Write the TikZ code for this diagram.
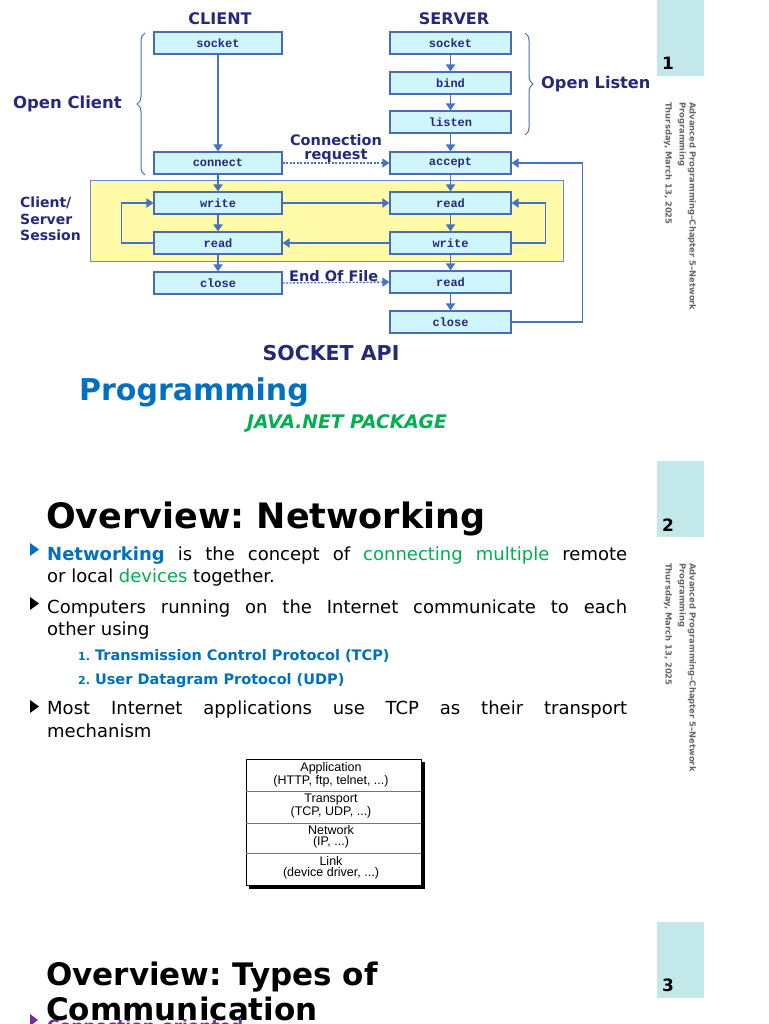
\documentclass[tikz,border=0pt]{standalone}
\usepackage{fontspec}
\setmainfont{DejaVu Sans}
\newfontfamily\monof{Liberation Mono}
\newfontfamily\arialf{Liberation Sans}
\usetikzlibrary{arrows.meta,decorations.pathreplacing}
\definecolor{navy}{HTML}{26297A}
\definecolor{boxfill}{HTML}{CFF6FD}
\definecolor{boxline}{HTML}{4A6CB8}
\definecolor{arr}{HTML}{4472C4}
\definecolor{yel}{HTML}{FFFBA8}
\definecolor{tabc}{HTML}{C3E8EA}
\definecolor{jblue}{HTML}{0070C0}
\definecolor{jgreen}{HTML}{00B050}
\definecolor{purp}{HTML}{7030A0}
\newcommand{\fs}[1]{\fontsize{#1}{#1}\selectfont}
\frenchspacing
\begin{document}
\begin{tikzpicture}[x=1pt,y=-1pt,
  api/.style={draw=boxline,fill=boxfill,line width=1.1pt,minimum width=128pt,minimum height=22pt,inner sep=0pt,font=\monof\bfseries\fs{12},text=navy},
  sapi/.style={api,minimum width=121pt},
  flow/.style={draw=arr,line width=1.8pt,-{Triangle[width=9pt,length=7pt]}},
  dflow/.style={draw=arr,line width=1.3pt,dash pattern=on 2pt off 1.5pt,-{Triangle[width=9pt,length=7pt]}},
  lbl/.style={text=navy,font=\bfseries\fs{16},inner sep=0pt},
  brc/.style={draw=boxline,line width=1pt,decorate,decoration={brace,amplitude=8pt}},
  body/.style={anchor=base west,inner sep=0pt,font=\fs{18}},
  side/.style={rotate=-90,anchor=west,inner sep=0pt,font=\bfseries\fs{8.4},text=black!60},
  tabnum/.style={anchor=base west,inner sep=0pt,font=\bfseries\fs{17}},
  stk/.style={inner sep=0pt,font=\arialf\fontsize{12.5}{11.5}\selectfont,align=center}
]
\useasboundingbox (0,0) rectangle (768,1024);
\clip (0,0) rectangle (768,1024);
\fill[white] (0,0) rectangle (768,1024);

% ---------------- Slide 1: socket API diagram ----------------
\node[draw=boxline!80,fill=yel,line width=0.9pt,minimum width=473pt,minimum height=81pt,inner sep=0pt] (sess) at (326.5,220.5) {};

\node[lbl] (client) at (220,19) {CLIENT};
\node[lbl] (server) at (454,19) {SERVER};

\node[api] (cs) at (218,43) {socket};
\node[api] (cc) at (218,163) {connect};
\node[api] (cw) at (218,203) {write};
\node[api] (cr) at (218,243) {read};
\node[api] (ccl) at (218,283) {close};

\node[sapi] (ss) at (450.5,43) {socket};
\node[sapi] (sb) at (450.5,83) {bind};
\node[sapi] (sl) at (450.5,122) {listen};
\node[sapi] (sa) at (450.5,163) {accept};
\node[sapi] (sr) at (450.5,203) {read};
\node[sapi] (sw) at (450.5,243) {write};
\node[sapi] (sr2) at (450.5,282) {read};
\node[sapi] (scl) at (450.5,322) {close};

\draw[flow] (cs) -- (cc);
\draw[flow] (cc) -- (cw);
\draw[flow] (cw) -- (cr);
\draw[flow] (cr) -- (ccl);
\draw[flow] (ss) -- (sb);
\draw[flow] (sb) -- (sl);
\draw[flow] (sl) -- (sa);
\draw[flow] (sa) -- (sr);
\draw[flow] (sr) -- (sw);
\draw[flow] (sw) -- (sr2);
\draw[flow] (sr2) -- (scl);

\draw[flow] (cw.east) -- (sr.west);
\draw[flow] (sw.west) -- (cr.east);
\draw[flow] (cr.west) -- ++(-32,0) |- (cw.west);
\draw[flow] (sw.east) -- ++(34,0) |- (sr.east);
\draw[flow] (scl.east) -- ++(71,0) |- (sa.east);
\draw[dflow] (cc.east) -- (sa.west);
\draw[dflow] (ccl.east) -- (sr2.west);

\node[lbl,align=center,font=\bfseries\fontsize{14.5}{13.5}\selectfont] (connreq) at (336,148.5) {Connection\\request};
\node[lbl,anchor=west,font=\bfseries\fs{14.5}] (eof) at (289,276) {End Of File};

\coordinate (ocb) at (145,175);
\coordinate (oct) at (145,33);
\draw[brc] (ocb) -- (oct);
\node[lbl,anchor=east,font=\bfseries\fs{16.5}] (openc) at (122,104) {Open Client};
\coordinate (olt) at (525,33);
\coordinate (olb) at (525,135);
\draw[brc] (olt) -- (olb);
\node[lbl,anchor=west,font=\bfseries\fs{16.2}] (openl) at (541,84) {Open Listen};

\node[lbl,anchor=north west,align=left,font=\bfseries\fontsize{14}{16.5}\selectfont] (csess) at (20,197) {Client/\\Server\\Session};

\node[lbl,font=\bfseries\fs{20.5}] (sockapi) at (331,353) {SOCKET API};
\node[anchor=base west,inner sep=0pt,text=jblue,font=\bfseries\fs{30}] (prog) at (79,400) {Programming};
\node[inner sep=0pt,text=jgreen,font=\bfseries\itshape\fs{18.7}] (javanet) at (347,423) {JAVA.NET PACKAGE};

% side tab 1
\fill[tabc] (657,0) rectangle (704,76);
\node[tabnum] (n1) at (662,70) {1};
\node[side] (s1a) at (692,102) {Advanced Programming--Chapter 5--Network};
\node[side] (s1b) at (682,102) {Programming};
\node[side] (s1c) at (668,102) {Thursday, March 13, 2025};

% ---------------- Slide 2 ----------------
\fill[tabc] (657,461) rectangle (704,537);
\node[tabnum] (n2) at (662,531) {2};
\node[side] (s2a) at (692,563) {Advanced Programming--Chapter 5--Network};
\node[side] (s2b) at (682,563) {Programming};
\node[side] (s2c) at (668,563) {Thursday, March 13, 2025};

\node[anchor=base west,inner sep=0pt,font=\bfseries\fs{35}] (t2) at (46,528) {Overview: Networking};

\fill[jblue] (30,543) -- (39,549.5) -- (30,556) -- cycle;
\node[body] (l1) at (47,560) {\makebox[580pt][s]{\textcolor{jblue}{\bfseries Networking} is the concept of \textcolor{jgreen}{connecting multiple} remote}};
\node[body] (l2) at (47,582) {or local \textcolor{jgreen}{devices} together.};
\fill[black] (30,597) -- (39,603.5) -- (30,610) -- cycle;
\node[body] (l3) at (47,613) {\makebox[580pt][s]{Computers running on the Internet communicate to each}};
\node[body] (l4) at (47,635) {other using};
\node[body,text=jblue,font=\bfseries\fs{14.5}] (u1) at (78,660) {{\fs{11}1.} Transmission Control Protocol (TCP)};
\node[body,text=jblue,font=\bfseries\fs{14.5}] (u2) at (78,684) {{\fs{11}2.} User Datagram Protocol (UDP)};
\fill[black] (30,700) -- (39,706.5) -- (30,713) -- cycle;
\node[body] (l5) at (47,714) {\makebox[580pt][s]{Most Internet applications use TCP as their transport}};
\node[body] (l6) at (47,737) {mechanism};

% protocol stack
\fill[black] (249,762) rectangle (424.5,888.5);
\draw[fill=white,line width=0.8pt] (246,759) rectangle (421,885);
\draw[black!55,line width=0.6pt] (246,791) -- (421,791);
\draw[black!55,line width=0.6pt] (246,823) -- (421,823);
\draw[black!55,line width=0.6pt] (246,853) -- (421,853);
\node[stk] (app) at (331,774.5) {Application\\(HTTP, ftp, telnet, ...)};
\node[stk] (trn) at (331,806) {Transport\\(TCP, UDP, ...)};
\node[stk] (net) at (331,837) {Network\\(IP, ...)};
\node[stk] (lnk) at (331,868) {Link\\(device driver, ...)};

% ---------------- Slide 3 ----------------
\fill[tabc] (657,922) rectangle (704,998);
\node[tabnum] (n3) at (662,991) {3};
\fill[purp] (30,1014) -- (38,1020) -- (30,1026) -- cycle;
\node[body,text=purp,font=\bfseries\fs{17}] (co) at (47,1032) {Connection-oriented};
\node[anchor=base west,inner sep=0pt,font=\bfseries\fs{31}] (t3a) at (46,985) {Overview: Types of};
\node[anchor=base west,inner sep=0pt,font=\bfseries\fs{31}] (t3b) at (46,1020) {Communication};
\end{tikzpicture}
\end{document}
